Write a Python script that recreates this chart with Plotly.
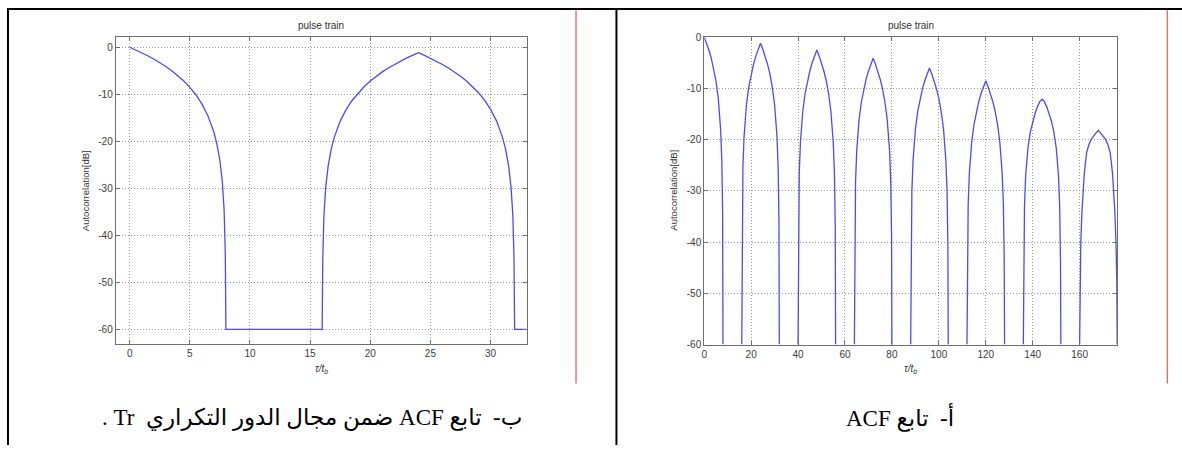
import plotly.graph_objects as go

W, H = 1182, 451

# ---------------- data: panel "b" (one repetition period) ----------------
LEFT_TAU = [0, 0.5, 1, 1.5, 2, 2.5, 3, 3.5, 4, 4.5, 5, 5.5, 6, 6.5, 7, 7.25, 7.5, 7.7, 7.85, 7.95, 8,
            16, 16.05, 16.15, 16.3, 16.5, 16.75, 17, 17.5, 18, 18.5, 19, 19.5, 20, 20.5, 21, 21.5, 22,
            22.5, 23, 23.5, 24,
            24.5, 25, 25.5, 26, 26.5, 27, 27.5, 28, 28.5, 29, 29.5, 30, 30.5, 31, 31.25, 31.5, 31.7,
            31.85, 31.95, 32, 33]
LEFT_DB = [0, -0.56, -1.16, -1.80, -2.50, -3.25, -4.08, -5.00, -6.02, -7.18, -8.52, -10.10, -12.04,
           -14.54, -18.06, -20.56, -24.08, -28.52, -34.54, -44.08, -60,
           -60, -45.24, -35.70, -29.68, -25.24, -21.72, -19.22, -15.70, -13.20, -11.26, -9.68, -8.34,
           -7.18, -6.16, -5.24, -4.41, -3.66, -2.96, -2.32, -1.72, -1.16,
           -1.72, -2.32, -2.96, -3.66, -4.41, -5.24, -6.16, -7.18, -8.34, -9.68, -11.26, -13.20,
           -15.70, -19.22, -21.72, -25.24, -29.68, -35.70, -45.24, -60, -60]

# ---------------- data: panel "a" (whole ACF), one list per lobe ----------------
RIGHT_TAU_LOBES = [
    [0, 1, 2, 3, 4, 5, 6, 7, 7.5, 7.85, 8],
    [16, 16.15, 16.5, 17, 18, 19, 20, 21, 22, 23, 24, 25, 26, 27, 28, 29, 30, 31, 31.5, 31.85, 32],
    [40, 40.15, 40.5, 41, 42, 43, 44, 45, 46, 47, 48, 49, 50, 51, 52, 53, 54, 55, 55.5, 55.85, 56],
    [64, 64.15, 64.5, 65, 66, 67, 68, 69, 70, 71, 72, 73, 74, 75, 76, 77, 78, 79, 79.5, 79.85, 80],
    [88, 88.15, 88.5, 89, 90, 91, 92, 93, 94, 95, 96, 97, 98, 99, 100, 101, 102, 103, 103.5, 103.85, 104],
    [112, 112.15, 112.5, 113, 114, 115, 116, 117, 118, 119, 120, 121, 122, 123, 124, 125, 126, 127,
     127.5, 127.85, 128],
    [136, 136.15, 136.5, 137, 138, 139, 140, 141, 142, 143, 144, 145, 146, 147, 148, 149, 150, 151,
     151.5, 151.85, 152],
    [160, 160.15, 160.5, 161, 161.5, 162, 163, 164, 165, 166, 167, 168, 169, 170, 171, 172, 173, 174,
     174.5, 175, 175.5, 175.85, 176],
]
RIGHT_DB_LOBES = [
    [0, -1.2, -2.5, -4.1, -6.0, -8.5, -12.0, -18.1, -24.1, -34.5, -60],
    [-60, -35.7, -25.3, -19.3, -13.2, -9.7, -7.2, -5.3, -3.7, -2.4, -1.2, -2.4, -3.7, -5.3, -7.2, -9.7,
     -13.2, -19.3, -25.3, -35.7, -60],
    [-60, -37.0, -26.6, -20.6, -14.5, -11.0, -8.5, -6.6, -5.0, -3.7, -2.5, -3.7, -5.0, -6.6, -8.5, -11.0,
     -14.5, -20.6, -26.6, -37.0, -60],
    [-60, -38.6, -28.2, -22.2, -16.1, -12.6, -10.1, -8.2, -6.6, -5.3, -4.1, -5.3, -6.6, -8.2, -10.1,
     -12.6, -16.1, -22.2, -28.2, -38.6, -60],
    [-60, -40.5, -30.1, -24.1, -18.0, -14.5, -12.0, -10.1, -8.5, -7.2, -6.0, -7.2, -8.5, -10.1, -12.0,
     -14.5, -18.0, -24.1, -30.1, -40.5, -60],
    [-60, -43.0, -32.6, -26.6, -20.5, -17.0, -14.5, -12.6, -11.0, -9.7, -8.5, -9.7, -11.0, -12.6, -14.5,
     -17.0, -20.5, -26.6, -32.6, -43.0, -60],
    [-60, -44.0, -33.0, -27.0, -21.5, -18.5, -16.4, -14.9, -13.6, -12.6, -12.1, -12.6, -13.6, -14.9,
     -16.4, -18.5, -21.5, -27.0, -33.0, -44.0, -60],
    [-60, -48, -40, -34, -30, -26.5, -22.5, -20.9, -19.9, -19.2, -18.7, -18.2, -18.7, -19.2, -19.9,
     -20.9, -22.5, -26.5, -30, -34, -40, -48, -60],
]

LEFT_XTICKS = [0, 5, 10, 15, 20, 25, 30]
RIGHT_XTICKS = [0, 20, 40, 60, 80, 100, 120, 140, 160]
YTICKS = [0, -10, -20, -30, -40, -50, -60]

TITLE = "pulse train"
YLABEL = "Autocorrelation[dB]"
XLABEL = "<i>τ/t<sub>b</sub></i>"
CAP_LEFT = "ب-  تابع ACF ضمن مجال الدور التكراري  Tr ."
CAP_RIGHT = "أ-  تابع ACF"

# lobes joined; the -60 floor between lobes lies under the bottom axis, so a gap is left there
right_tau, right_db = [], []
for lt, ld in zip(RIGHT_TAU_LOBES, RIGHT_DB_LOBES):
    right_tau += lt + [None]
    right_db += ld + [None]

LINE = dict(color="#4a4aff", width=1.3)

fig = go.Figure()
fig.add_trace(go.Scatter(x=LEFT_TAU, y=LEFT_DB, mode="lines", line=LINE,
                         xaxis="x", yaxis="y", showlegend=False, hoverinfo="skip"))
fig.add_trace(go.Scatter(x=right_tau, y=right_db, mode="lines", line=LINE, connectgaps=False,
                         xaxis="x2", yaxis="y2", showlegend=False, hoverinfo="skip"))


def px(x):
    return x / W


def py(y):
    return 1 - y / H


def lab(v):
    return [str(t) for t in v]


AX = dict(showline=True, linecolor="#6e6e6e", linewidth=1, mirror="ticks",
          ticks="inside", ticklen=4, tickcolor="#6e6e6e", tickwidth=1,
          showgrid=True, gridcolor="#9a9a9a", griddash="1px,2px", gridwidth=1,
          zeroline=False, tickfont=dict(family="Liberation Sans, Arial", size=10, color="#3c3c3c"),
          fixedrange=True)

fig.update_layout(
    width=W, height=H,
    margin=dict(l=0, r=0, t=0, b=0),
    paper_bgcolor="white", plot_bgcolor="white",
    xaxis=dict(AX, domain=[px(113), px(525)], range=[-1.16, 33.0],
               tickvals=LEFT_XTICKS, ticktext=lab(LEFT_XTICKS), anchor="y"),
    yaxis=dict(AX, domain=[py(347), py(33)], range=[-63.0, 2.14],
               tickvals=YTICKS, ticktext=lab(YTICKS), anchor="x"),
    xaxis2=dict(AX, domain=[px(703), px(1117)], range=[0, 176],
                tickvals=RIGHT_XTICKS, ticktext=lab(RIGHT_XTICKS), anchor="y2"),
    yaxis2=dict(AX, domain=[py(348), py(33)], range=[-60, 0],
                tickvals=YTICKS, ticktext=lab(YTICKS), anchor="x2"),
)

ann = []
small = dict(family="Liberation Sans, Arial", size=10, color="#333333")
for cx, ylx in [(319, 83), (910, 672)]:
    ann.append(dict(x=px(cx), y=py(21.5), xref="paper", yref="paper", text=TITLE,
                    showarrow=False, font=small, xanchor="center", yanchor="middle"))
    ann.append(dict(x=px(cx), y=py(373), xref="paper", yref="paper", text=XLABEL,
                    showarrow=False, font=small, xanchor="center", yanchor="middle"))
    ann.append(dict(x=px(ylx), y=py(190), xref="paper", yref="paper", text=YLABEL,
                    showarrow=False, font=dict(small, size=9.5), textangle=-90,
                    xanchor="center", yanchor="middle"))

cap_font = dict(family="Liberation Serif, Times New Roman, DejaVu Sans", size=23, color="#000000")
ann.append(dict(x=px(310), y=py(423), xref="paper", yref="paper",
                text="\u202b" + CAP_LEFT + "\u202c", showarrow=False, font=cap_font,
                xanchor="center", yanchor="middle"))
ann.append(dict(x=px(899), y=py(423), xref="paper", yref="paper",
                text="\u202b" + CAP_RIGHT + "\u202c", showarrow=False, font=cap_font,
                xanchor="center", yanchor="middle"))
fig.update_layout(annotations=ann)

shapes = []
blk = dict(color="#000000", width=2)
shapes.append(dict(type="line", xref="paper", yref="paper", x0=px(4), x1=1, y0=py(4), y1=py(4), line=blk))
shapes.append(dict(type="line", xref="paper", yref="paper", x0=px(5), x1=px(5), y0=0, y1=py(4), line=blk))
shapes.append(dict(type="line", xref="paper", yref="paper", x0=px(615), x1=px(615), y0=0, y1=py(4),
                   line=blk))
red = dict(color="#f06a6a", width=1.4)
for rx in (574.5, 1167.3):
    shapes.append(dict(type="line", xref="paper", yref="paper", x0=px(rx), x1=px(rx),
                       y0=py(388), y1=py(5), line=red))
fig.update_layout(shapes=shapes)

fig.write_html("out.html")
